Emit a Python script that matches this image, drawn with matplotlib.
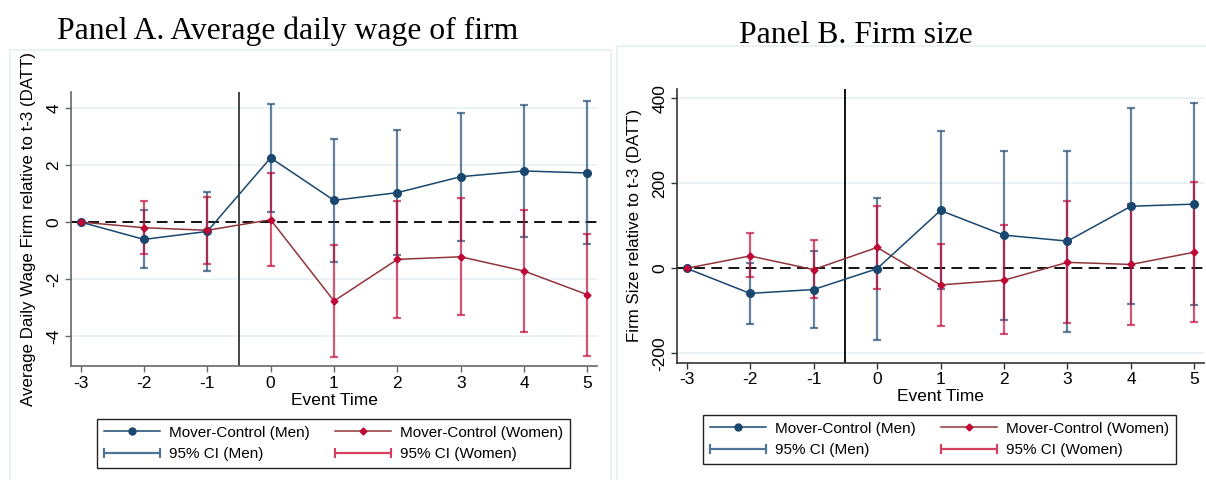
import matplotlib
matplotlib.use('Agg')
import matplotlib.pyplot as plt
from matplotlib.lines import Line2D
from matplotlib.patches import Rectangle
from matplotlib.legend_handler import HandlerLine2D

event_time = [-3, -2, -1, 0, 1, 2, 3, 4, 5]

# Panel A: average daily wage of firm
wage_men = [0, -0.61, -0.33, 2.25, 0.76, 1.03, 1.59, 1.79, 1.72]
wage_men_lo = [0, -1.63, -1.71, 0.36, -1.39, -1.17, -0.67, -0.51, -0.78]
wage_men_hi = [0, 0.42, 1.04, 4.13, 2.92, 3.22, 3.84, 4.11, 4.23]
wage_women = [0, -0.20, -0.29, 0.08, -2.77, -1.31, -1.22, -1.72, -2.55]
wage_women_lo = [0, -1.13, -1.47, -1.54, -4.75, -3.36, -3.26, -3.84, -4.71]
wage_women_hi = [0, 0.75, 0.89, 1.71, -0.81, 0.75, 0.85, 0.41, -0.41]

# Panel B: firm size
size_men = [0, -59, -50, -1, 136, 78, 64, 146, 151]
size_men_lo = [0, -131, -141, -169, -49, -122, -149, -83, -86]
size_men_hi = [0, 13, 40, 166, 323, 277, 276, 376, 389]
size_women = [0, 29, -3, 49, -39, -28, 14, 9, 38]
size_women_lo = [0, -21, -71, -48, -135, -155, -128, -133, -126]
size_women_hi = [0, 82, 66, 146, 57, 102, 158, 151, 202]

wage_ticks = [-4, -2, 0, 2, 4]
size_ticks = [-200, 0, 200, 400]

men_col = '#1a476f'
women_line = '#90353b'
women_mk = '#c10534'
grid_col = '#e8f0f2'

plt.rcParams['font.family'] = ['Liberation Sans', 'DejaVu Sans']
plt.rcParams['axes.unicode_minus'] = False

W, H = 1206, 480
fig = plt.figure(figsize=(W / 100, H / 100), dpi=100)


def px_axes(l, t, r, b):
    return fig.add_axes([l / W, 1 - b / H, (r - l) / W, (b - t) / H])


def draw_panel(ax, men, men_lo, men_hi, women, women_lo, women_hi,
               ylim, yticks, ylabel, spine_col, vcol):
    ax.set_xlim(-3.15, 5.15)
    ax.set_ylim(ylim)
    for y in yticks:
        if y != 0:
            ax.axhline(y, color=grid_col, lw=1.2, zorder=0)
    ax.axhline(0, color='black', lw=1.3, ls=(0, (6, 3.5)), zorder=1)
    ax.axvline(-0.5, color=vcol, lw=1.4, zorder=1)

    x = event_time[1:]
    for vals, lo, hi, c in [(men, men_lo, men_hi, men_col),
                            (women, women_lo, women_hi, women_mk)]:
        m = vals[1:]
        err = [[a - b for a, b in zip(m, lo[1:])], [b - a for a, b in zip(m, hi[1:])]]
        ax.errorbar(x, m, yerr=err, fmt='none', ecolor=c, alpha=0.68,
                    elinewidth=1.6, capsize=3, capthick=1.6, zorder=2)

    ax.plot(event_time, men, color=men_col, lw=1.1, marker='o', ms=5.5, zorder=4)
    ax.plot(event_time, women, color=women_line, lw=1.1, zorder=3)
    ax.plot(event_time, women, ls='none', marker='D', ms=3.5,
            color=women_mk, zorder=4)

    for s in ['top', 'right']:
        ax.spines[s].set_visible(False)
    for s in ['left', 'bottom']:
        ax.spines[s].set_color(spine_col)
        ax.spines[s].set_linewidth(1.2)
    ax.set_xticks(event_time)
    ax.set_yticks(yticks)
    ax.set_yticklabels([str(v) for v in yticks], rotation=90, va='center')
    ax.tick_params(axis='both', direction='out', length=4, width=1,
                   color=spine_col, labelsize=12.5, pad=3)
    ax.set_ylabel(ylabel, fontsize=12.2)
    ax.yaxis.set_label_coords(-0.066, 0.5)
    ax.set_xlabel('Event Time', fontsize=12.5)
    ax.xaxis.set_label_coords(0.5, -0.152)
    ax.xaxis.label.set_va('bottom')


def add_legend(ax, cx, cy):
    men_pt = Line2D([], [], color=men_col, marker='o', ms=5, lw=1.1)
    women_pt = Line2D([], [], color=women_line, marker='D', ms=3.5,
                      mfc=women_mk, mec=women_mk, lw=1.1)
    men_ci = Line2D([], [], color='#4f7398', marker='|', ms=7, mew=1.5, lw=1.6)
    women_ci = Line2D([], [], color='#d6405f', marker='|', ms=7, mew=1.5, lw=1.6)
    hm = {men_ci: HandlerLine2D(numpoints=2, marker_pad=0),
          women_ci: HandlerLine2D(numpoints=2, marker_pad=0)}
    leg = fig.legend([men_pt, men_ci, women_pt, women_ci],
                     ['Mover-Control (Men)', '95% CI (Men)',
                      'Mover-Control (Women)', '95% CI (Women)'],
                     ncol=2, loc='center', bbox_to_anchor=(cx / W, 1 - cy / H),
                     fontsize=11, handlelength=3.7, handletextpad=0.6,
                     columnspacing=1.6, labelspacing=0.5, numpoints=1,
                     fancybox=False, framealpha=1, edgecolor='#222222',
                     borderpad=0.45, handler_map=hm)
    leg.get_frame().set_linewidth(1.0)


# graph region outlines
fig.add_artist(Rectangle((10 / W, -0.02), 601 / W, 1 - 50 / H + 0.02,
                         transform=fig.transFigure, fill=False,
                         edgecolor=grid_col, lw=1.2))
fig.add_artist(Rectangle((617 / W, -0.02), 600 / W, 1 - 46 / H + 0.02,
                         transform=fig.transFigure, fill=False,
                         edgecolor=grid_col, lw=1.2))

axA = px_axes(71, 92, 597, 366)
draw_panel(axA, wage_men, wage_men_lo, wage_men_hi,
           wage_women, wage_women_lo, wage_women_hi,
           (-5.05, 4.56), wage_ticks,
           'Average Daily Wage Firm relative to t-3 (DATT)', '#666666', '#444444')
add_legend(axA, 333.5, 443.5)

axB = px_axes(677, 88.5, 1204, 362.5)
draw_panel(axB, size_men, size_men_lo, size_men_hi,
           size_women, size_women_lo, size_women_hi,
           (-221.6, 423), size_ticks,
           'Firm Size relative to t-3 (DATT)', '#333333', '#111111')
add_legend(axB, 939.5, 439.5)

fig.text(57 / W, 1 - 39 / H, 'Panel A. Average daily wage of firm',
         family='Liberation Serif', fontsize=22.8, ha='left', va='baseline')
fig.text(739 / W, 1 - 43 / H, 'Panel B. Firm size',
         family='Liberation Serif', fontsize=22.8, ha='left', va='baseline')

fig.savefig('out.png', dpi=100, facecolor='white')
